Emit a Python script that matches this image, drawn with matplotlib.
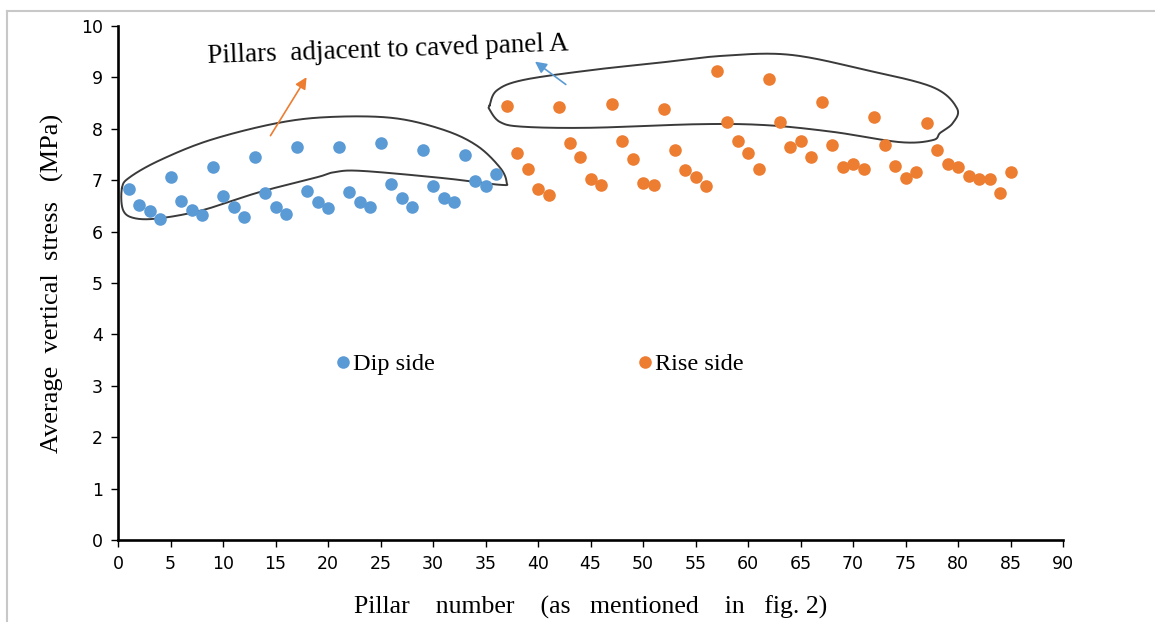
import numpy as np
import matplotlib
matplotlib.use("Agg")
import matplotlib.pyplot as plt
from matplotlib.lines import Line2D

# Pillar numbers and average vertical stress (MPa)
dip_pillars = list(range(1, 37))
dip_stress = [6.82, 6.52, 6.40, 6.25, 7.06, 6.59, 6.42, 6.32, 7.26, 6.69,
              6.48, 6.28, 7.46, 6.75, 6.48, 6.35, 7.65, 6.79, 6.58, 6.45,
              7.65, 6.78, 6.58, 6.48, 7.72, 6.92, 6.65, 6.48, 7.59, 6.89,
              6.65, 6.58, 7.49, 6.99, 6.89, 7.12]

rise_pillars = list(range(37, 86))
rise_stress = [8.45, 7.52, 7.22, 6.82, 6.72, 8.42, 7.72, 7.46, 7.02, 6.91,
               8.49, 7.76, 7.42, 6.95, 6.91, 8.39, 7.59, 7.19, 7.06, 6.89,
               9.12, 8.13, 7.76, 7.52, 7.22, 8.96, 8.13, 7.65, 7.76, 7.45,
               8.52, 7.68, 7.25, 7.32, 7.22, 8.22, 7.68, 7.28, 7.05, 7.15,
               8.12, 7.59, 7.32, 7.25, 7.08, 7.02, 7.02, 6.75, 7.15]

# hand-drawn outlines around the pillars adjacent to caved panel A
dip_outline_x = [0.38, 1.14, 4.0, 8.76, 15.14, 20.2, 26.2, 31.0, 34.2, 36.4, 37.0,
                 36.4, 31.0, 23.3, 20.7, 19.0, 13.5, 8.1, 4.0, 1.6, 0.48]
dip_outline_y = [6.85, 7.06, 7.39, 7.78, 8.11, 8.23, 8.21, 7.98, 7.67, 7.24, 6.96,
                 6.91, 7.04, 7.18, 7.16, 7.06, 6.77, 6.42, 6.26, 6.26, 6.42]
rise_outline_x = [35.4, 36.1, 38.6, 45.0, 51.3, 57.6, 64.0, 71.3, 77.6, 79.9, 79.5,
                  78.3, 77.6, 74.5, 68.1, 61.8, 55.4, 45.0, 38.6, 36.4, 35.4]
rise_outline_y = [8.46, 8.75, 8.95, 9.14, 9.28, 9.42, 9.44, 9.14, 8.81, 8.40, 8.11,
                  7.92, 7.78, 7.74, 7.94, 8.07, 8.09, 8.02, 8.04, 8.13, 8.37]

BLUE = "#5B9BD5"
ORANGE = "#ED7D31"
SERIF = ["Liberation Serif", "DejaVu Serif"]


def closed_smooth(xs, ys, n=24):
    # closed Catmull-Rom spline through the given points
    P = np.column_stack([xs, ys])
    N = len(P)
    t = np.linspace(0, 1, n, endpoint=False)[:, None]
    segs = []
    for i in range(N):
        p0, p1, p2, p3 = P[i - 1], P[i], P[(i + 1) % N], P[(i + 2) % N]
        segs.append(0.5 * (2 * p1 + (-p0 + p2) * t
                           + (2 * p0 - 5 * p1 + 4 * p2 - p3) * t ** 2
                           + (-p0 + 3 * p1 - 3 * p2 + p3) * t ** 3))
    pts = np.vstack(segs + [segs[0][:1]])
    return pts[:, 0], pts[:, 1]


fig = plt.figure(figsize=(11.55, 6.22), dpi=100)
ax = fig.add_axes([118 / 1155, 1 - 540 / 622, 945 / 1155, 514 / 622])

ax.scatter(dip_pillars, dip_stress, s=82, color=BLUE, label="Dip side", zorder=3, linewidths=0)
ax.scatter(rise_pillars, rise_stress, s=82, color=ORANGE, label="Rise side", zorder=3, linewidths=0)

for ox, oy in [(dip_outline_x, dip_outline_y), (rise_outline_x, rise_outline_y)]:
    sx, sy = closed_smooth(ox, oy)
    ax.plot(sx, sy, color="#3a3a3a", lw=1.4, zorder=2)

# arrows pointing at the label
ax.annotate("", xy=(18.1, 9.05), xytext=(14.38, 7.82),
            arrowprops=dict(arrowstyle="-|>", color=ORANGE, lw=1.2, mutation_scale=17))
ax.annotate("", xy=(39.5, 9.34), xytext=(42.86, 8.83),
            arrowprops=dict(arrowstyle="-|>", color=BLUE, lw=1.2, mutation_scale=17))
ax.text(8.57, 9.28, "Pillars  adjacent to caved panel A", family=SERIF, fontsize=19.5,
        rotation=2, rotation_mode="anchor", ha="left", va="baseline")

ax.set_xlim(0, 90)
ax.set_ylim(0, 10)
ax.set_xticks(range(0, 91, 5))
ax.set_yticks(range(0, 11, 1))
ax.tick_params(axis="both", direction="out", length=5, width=1, labelsize=12.5, pad=6)
for s in ["top", "right"]:
    ax.spines[s].set_visible(False)
for s in ["left", "bottom"]:
    ax.spines[s].set_linewidth(1.9)

ax.set_xlabel("Pillar    number    (as   mentioned    in   fig. 2)", family=SERIF, fontsize=18.5, labelpad=16)
ax.set_ylabel("Average  vertical  stress   (MPa)", family=SERIF, fontsize=19, labelpad=12)

ax.legend(loc="center", bbox_to_anchor=(0.447, 0.342), ncol=2, frameon=False,
          prop={"family": SERIF, "size": 17.5}, handlelength=0.5, handletextpad=0.15,
          columnspacing=8.4, scatteryoffsets=[0.5])

# thin grey frame (left and top edges only)
fig.add_artist(Line2D([7 / 1155, 7 / 1155], [0, 1 - 10.5 / 622], color="#c8c8c8", lw=1.5))
fig.add_artist(Line2D([7 / 1155, 1], [1 - 10.5 / 622, 1 - 10.5 / 622], color="#c8c8c8", lw=1.5))

fig.savefig("out.png", dpi=100)
